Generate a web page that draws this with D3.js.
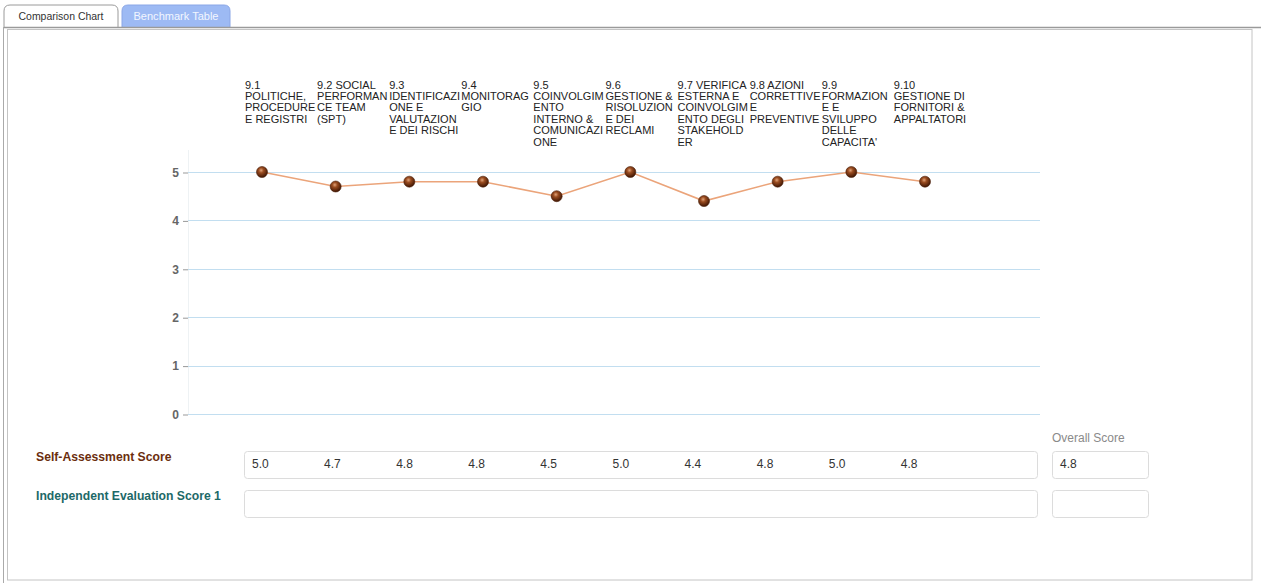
<!DOCTYPE html>
<html>
<head>
<meta charset="utf-8">
<script src="https://cdn.jsdelivr.net/npm/d3@7"></script>
<style>
  html, body { margin: 0; padding: 0; background: #fff; }
  svg { display: block; font-family: "Liberation Sans", Arial, sans-serif; }
</style>
</head>
<body>
<svg id="chart" width="1261" height="583"></svg>
<script>
// Benchmark sections (Italian labels as shown in the report)
const categories = [
  "9.1 POLITICHE, PROCEDURE E REGISTRI",
  "9.2 SOCIAL PERFORMANCE TEAM (SPT)",
  "9.3 IDENTIFICAZIONE E VALUTAZIONE DEI RISCHI",
  "9.4 MONITORAGGIO",
  "9.5 COINVOLGIMENTO INTERNO & COMUNICAZIONE",
  "9.6 GESTIONE & RISOLUZIONE DEI RECLAMI",
  "9.7 VERIFICA ESTERNA E COINVOLGIMENTO DEGLI STAKEHOLDER",
  "9.8 AZIONI CORRETTIVE E PREVENTIVE",
  "9.9 FORMAZIONE E SVILUPPO DELLE CAPACITA'",
  "9.10 GESTIONE DI FORNITORI & APPALTATORI"
];
const selfAssessment = [5.0, 4.7, 4.8, 4.8, 4.5, 5.0, 4.4, 4.8, 5.0, 4.8];
const independentEvaluation = [];
const overallSelf = 4.8;
const yTicks = [0, 1, 2, 3, 4, 5];
const tabLabels = ["Comparison Chart", "Benchmark Table"];
const rowLabels = ["Self-Assessment Score", "Independent Evaluation Score 1"];

const svg = d3.select("#chart");

// ---- tabs and panel frame ----
const tabs = [
  { x0: 4, x1: 118, fill: "#ffffff", stroke: "#9a9a9a", text: "#333333" },
  { x0: 122, x1: 230, fill: "#9dbaf4", stroke: "#8aa6e6", text: "#f2f6ff" }
];
function tabPath(t) {
  const r = 6, top = 5, bot = 27;
  return `M${t.x0},${bot} L${t.x0},${top + r} Q${t.x0},${top} ${t.x0 + r},${top}` +
         ` L${t.x1 - r},${top} Q${t.x1},${top} ${t.x1},${top + r} L${t.x1},${bot}`;
}
svg.selectAll("path.tab").data(tabs).join("path")
  .attr("class", "tab")
  .attr("d", tabPath)
  .attr("fill", d => d.fill)
  .attr("stroke", d => d.stroke)
  .attr("stroke-width", 1);
svg.selectAll("text.tab").data(tabs).join("text")
  .attr("class", "tab")
  .attr("x", d => (d.x0 + d.x1) / 2)
  .attr("y", 20)
  .attr("text-anchor", "middle")
  .attr("font-size", 11.5)
  .attr("textLength", 85)
  .attr("lengthAdjust", "spacingAndGlyphs")
  .attr("fill", d => d.text)
  .text((d, i) => tabLabels[i]);

svg.append("line").attr("x1", 4).attr("x2", 1261).attr("y1", 27.5).attr("y2", 27.5)
  .attr("stroke", "#9a9a9a").attr("stroke-width", 1.5);
svg.append("line").attr("x1", 3.5).attr("x2", 3.5).attr("y1", 27).attr("y2", 583)
  .attr("stroke", "#aaaaaa");
svg.append("rect").attr("x", 7.5).attr("y", 29.5).attr("width", 1244.5).attr("height", 550.5)
  .attr("fill", "none").attr("stroke", "#c4c4c4");

// ---- scales ----
const y = d3.scaleLinear().domain([0, 5]).range([414, 172]);
const xPoint = d3.scalePoint().domain(categories).range([262, 925]);
// label/value columns: one extra empty slot at the end of the row
const xBand = d3.scaleBand().domain([...categories, ""]).range([245, 1038]);

// ---- gridlines and y axis ----
const gx0 = 188, gx1 = 1040;
svg.append("line").attr("x1", gx0 + 0.5).attr("x2", gx0 + 0.5)
  .attr("y1", 150).attr("y2", y(0))
  .attr("stroke", "#eef2f4");
svg.selectAll("line.grid").data(yTicks).join("line")
  .attr("class", "grid")
  .attr("x1", gx0).attr("x2", gx1)
  .attr("y1", d => Math.round(y(d)) + 0.5).attr("y2", d => Math.round(y(d)) + 0.5)
  .attr("stroke", "#c2def0");
const yAxis = d3.axisLeft(y).tickValues(yTicks).tickSize(5).tickPadding(4).tickFormat(d3.format("d"));
const ag = svg.append("g").attr("transform", `translate(${gx0},0.5)`).call(yAxis);
ag.select(".domain").remove();
ag.selectAll(".tick line").attr("stroke", "#999999");
ag.selectAll(".tick text")
  .attr("font-family", "'Liberation Sans', Arial, sans-serif")
  .attr("font-size", 12).attr("font-weight", "bold").attr("fill", "#666666");

// ---- category labels (wrapped into columns) ----
const measurer = svg.append("text").attr("font-size", 11).attr("visibility", "hidden");
function width(s) { measurer.text(s); return measurer.node().getComputedTextLength(); }
function wrap(label, maxW) {
  const lines = [];
  let cur = "";
  for (const word of label.split(" ")) {
    const trial = cur ? cur + " " + word : word;
    if (width(trial) <= maxW) { cur = trial; continue; }
    if (cur) lines.push(cur);
    if (width(word) <= maxW) { cur = word; continue; }
    // word longer than the column: break between characters
    let piece = "";
    for (const ch of word) {
      if (width(piece + ch) > maxW && piece) { lines.push(piece); piece = ch; }
      else piece += ch;
    }
    cur = piece;
  }
  if (cur) lines.push(cur);
  return lines;
}
const labelG = svg.append("g").attr("font-size", 11).attr("fill", "#222222");
categories.forEach((c, i) => {
  const last = i === categories.length - 1;
  const lines = wrap(c, last ? xBand.step() + 8 : xBand.step() - 0.5);
  labelG.append("text")
    .attr("x", xBand(c))
    .attr("y", 88.5)
    .selectAll("tspan").data(lines).join("tspan")
    .attr("x", xBand(c))
    .attr("dy", (d, k) => k === 0 ? 0 : 11.4)
    .text(d => d);
});
measurer.remove();

// ---- self-assessment line with spherical markers ----
const defs = svg.append("defs");
const grad = defs.append("radialGradient").attr("id", "ball")
  .attr("cx", "42%").attr("cy", "35%").attr("r", "65%");
grad.append("stop").attr("offset", "0%").attr("stop-color", "#e0a37a");
grad.append("stop").attr("offset", "35%").attr("stop-color", "#9a4c20");
grad.append("stop").attr("offset", "100%").attr("stop-color", "#3e1503");

const line = d3.line().x((d, i) => xPoint(categories[i])).y(d => y(d));
svg.append("path").datum(selfAssessment)
  .attr("d", line)
  .attr("fill", "none")
  .attr("stroke", "#eba47a")
  .attr("stroke-width", 1.6);
svg.selectAll("circle.pt").data(selfAssessment).join("circle")
  .attr("class", "pt")
  .attr("cx", (d, i) => xPoint(categories[i]))
  .attr("cy", d => y(d))
  .attr("r", 5.5)
  .attr("fill", "url(#ball)")
  .attr("stroke", "#4a1c06")
  .attr("stroke-width", 0.6);

// ---- score rows ----
const rows = [
  { label: rowLabels[0], color: "#6b2e0e", top: 451, values: selfAssessment, overall: overallSelf },
  { label: rowLabels[1], color: "#1d6968", top: 490, values: independentEvaluation, overall: null }
];
const boxH = 27;
rows.forEach(r => {
  svg.append("text")
    .attr("x", 36).attr("y", r.top + 10)
    .attr("font-size", 12.2).attr("font-weight", "bold")
    .attr("fill", r.color)
    .text(r.label);
  svg.append("rect")
    .attr("x", 244.5).attr("y", r.top + 0.5)
    .attr("width", 793).attr("height", boxH)
    .attr("rx", 3)
    .attr("fill", "#ffffff").attr("stroke", "#dcdcdc");
  svg.append("rect")
    .attr("x", 1052.5).attr("y", r.top + 0.5)
    .attr("width", 96).attr("height", boxH)
    .attr("rx", 3)
    .attr("fill", "#ffffff").attr("stroke", "#dcdcdc");
  svg.append("g").attr("font-size", 12).attr("fill", "#333333")
    .selectAll("text").data(r.values).join("text")
    .attr("x", (d, i) => xBand(categories[i]) + 7)
    .attr("y", r.top + 16.5)
    .text(d => d3.format(".1f")(d));
  if (r.overall !== null) {
    svg.append("text")
      .attr("x", 1060).attr("y", r.top + 16.5)
      .attr("font-size", 12).attr("fill", "#333333")
      .text(d3.format(".1f")(r.overall));
  }
});
svg.append("text")
  .attr("x", 1052).attr("y", 442)
  .attr("font-size", 12).attr("fill", "#8a8a8a")
  .text("Overall Score");
</script>
</body>
</html>
